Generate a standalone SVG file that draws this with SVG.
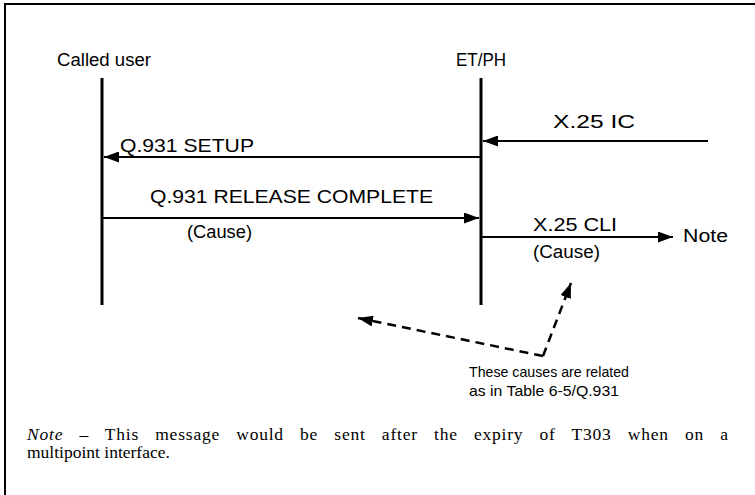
<svg xmlns="http://www.w3.org/2000/svg" width="755" height="495" viewBox="0 0 755 495">
<style>
.lbl{font-family:"Liberation Sans",Arial,sans-serif;font-size:17.5px;fill:#000}
.sm{font-size:14.5px}
.life{stroke:#000;stroke-width:3;fill:none}
.msg{stroke:#000;stroke-width:2.2;fill:none}
.dash{stroke:#000;stroke-width:2.5;stroke-dasharray:9 6;fill:none}
.note{font-family:"Liberation Serif","Times New Roman",serif;font-size:17.5px;fill:#000}
</style>
<defs>
<marker id="ah" viewBox="0 0 15 11" refX="15" refY="5.5" markerWidth="15" markerHeight="11" markerUnits="userSpaceOnUse" orient="auto"><path d="M0,0 L15,5.5 L0,11 z" fill="#000"/></marker>
</defs>
<path d="M5,495 V4 H755" stroke="#000" stroke-width="2" fill="none"/>
<g id="called-user">
<text class="lbl" x="57" y="66" textLength="94" lengthAdjust="spacingAndGlyphs">Called user</text>
<line class="life" x1="102" y1="78" x2="102" y2="305"/>
</g>
<g id="et-ph">
<text class="lbl" x="456" y="66" textLength="50" lengthAdjust="spacingAndGlyphs">ET/PH</text>
<line class="life" x1="481" y1="78" x2="481" y2="305"/>
</g>
<g id="connectors">
<line class="msg" x1="708" y1="141" x2="483" y2="141" marker-end="url(#ah)"/>
<line class="msg" x1="481" y1="157" x2="104" y2="157" marker-end="url(#ah)"/>
<line class="msg" x1="102" y1="218" x2="479" y2="218" marker-end="url(#ah)"/>
<line class="msg" x1="481" y1="237" x2="673" y2="237" marker-end="url(#ah)"/>
<path class="dash" d="M543,356 L358,318" marker-end="url(#ah)"/>
<path class="dash" d="M543,356 L571,283" marker-end="url(#ah)"/>
</g>
<g id="labels">
<text class="lbl" x="553" y="128" textLength="82" lengthAdjust="spacingAndGlyphs">X.25 IC</text>
<text class="lbl" x="120" y="152" textLength="134" lengthAdjust="spacingAndGlyphs">Q.931 SETUP</text>
<text class="lbl" x="150" y="203" textLength="283" lengthAdjust="spacingAndGlyphs">Q.931 RELEASE COMPLETE</text>
<text class="lbl" x="187" y="238" textLength="65" lengthAdjust="spacingAndGlyphs">(Cause)</text>
<text class="lbl" x="533" y="231" textLength="84" lengthAdjust="spacingAndGlyphs">X.25 CLI</text>
<text class="lbl" x="683" y="242" textLength="45" lengthAdjust="spacingAndGlyphs">Note</text>
<text class="lbl" x="533" y="258" textLength="67" lengthAdjust="spacingAndGlyphs">(Cause)</text>
<text class="lbl sm" x="469" y="377" textLength="160" lengthAdjust="spacingAndGlyphs">These causes are related</text>
<text class="lbl sm" x="469" y="396" textLength="150" lengthAdjust="spacingAndGlyphs">as in Table 6-5/Q.931</text>
</g>
<g id="note">
<text class="note" x="27" y="440" word-spacing="11" textLength="701" lengthAdjust="spacing"><tspan font-style="italic">Note</tspan> – This message would be sent after the expiry of T303 when on a</text>
<text class="note" x="27" y="458">multipoint interface.</text>
</g>
</svg>
